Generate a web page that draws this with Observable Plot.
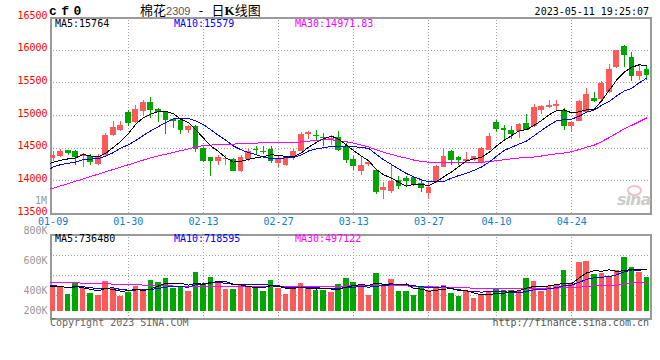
<!DOCTYPE html>
<html>
<head>
<meta charset="utf-8">
<script src="https://cdn.jsdelivr.net/npm/d3@7"></script>
<script src="https://cdn.jsdelivr.net/npm/@observablehq/plot@0.6"></script>
<style>
html,body{margin:0;padding:0;background:#fff;}
#wrap{position:relative;width:660px;height:360px;overflow:hidden;background:#fff;}
#main,#vol{position:absolute;left:0;width:660px;}
#main{top:0;} #vol{top:228px;}
.t{position:absolute;white-space:nowrap;font-size:10px;line-height:10px;font-family:"DejaVu Sans Mono",monospace;}
</style>
</head>
<body>
<div id="wrap">
  <div id="main"></div>
  <div id="vol"></div>
  <div class="t" style="left:49px;top:7px;font:bold 13px/10px 'Liberation Mono',monospace;letter-spacing:4.4px;color:#000">cf0</div>
  <div class="t" style="left:140px;top:3px;font:13px/13px 'Noto Sans CJK SC',sans-serif;color:#000">棉花<span style="font:11px/13px 'Liberation Sans',sans-serif;color:#555">2309</span><span style="display:inline-block;width:21px;text-align:center">-</span>日<b style="font-family:'Liberation Serif',serif">K</b>线图</div>
  <div class="t" style="right:11px;top:7px;color:#000">2023-05-11 19:25:07</div>
  <div class="t" style="right:613px;top:196px;color:#999">1M</div>
  <div class="t" style="left:50px;top:318px;color:#666">Copyright 2023 SINA.COM</div>
  <div class="t" style="right:11px;top:318px;color:#555">http://finance.sina.com.cn</div>
  <div style="position:absolute;left:627px;top:185px;width:11px;height:7px;border:2px solid #ecc4c4;border-radius:50%;"></div>
  <div class="t" style="left:617px;top:192px;font:italic bold 16px/16px 'DejaVu Sans',sans-serif;color:#cccccc;letter-spacing:-1px">sina</div>
</div>
<script>
// ---- data ----
const dates = ["01-09","01-10","01-11","01-12","01-13","01-16","01-17","01-18","01-19","01-20",
"01-30","01-31","02-01","02-02","02-03","02-06","02-07","02-08","02-09","02-10",
"02-13","02-14","02-15","02-16","02-17","02-20","02-21","02-22","02-23","02-24",
"02-27","02-28","03-01","03-02","03-03","03-06","03-07","03-08","03-09","03-10",
"03-13","03-14","03-15","03-16","03-17","03-20","03-21","03-22","03-23","03-24",
"03-27","03-28","03-29","03-30","03-31","04-03","04-04","04-06","04-07","04-10",
"04-11","04-12","04-13","04-14","04-17","04-18","04-19","04-20","04-21","04-24",
"04-25","04-26","04-27","04-28","05-04","05-05","05-08","05-09","05-10","05-11"];

const open = [14342,14378,14460,14444,14378,14378,14255,14393,14699,14776,
15051,14888,15067,15194,15092,15041,14938,14918,14775,14836,
14500,14357,14290,14326,14331,14137,14331,14479,14454,14484,
14265,14240,14357,14450,14704,14693,14663,14622,14658,14530,
14331,14137,14245,14163,13847,13831,14010,14040,14046,13965,
13800,13969,14203,14443,14352,14290,14306,14275,14469,14892,
14795,14765,14760,14877,14826,15081,15122,15132,15081,14836,
14902,15040,15265,15244,15346,15734,16051,15887,15591,15704];

const high = [14444,14485,14470,14460,14419,14409,14404,14724,14902,14912,
15081,15157,15235,15270,15107,15056,14958,14938,14840,14846,
14505,14360,14392,14392,14342,14392,14479,14530,14520,14520,
14377,14378,14480,14735,14760,14775,14724,14699,14750,14571,
14377,14377,14300,14163,13969,14255,14071,14071,14071,14000,
13969,14240,14494,14458,14367,14428,14377,14510,14724,14928,
14851,14836,14877,15020,15173,15158,15234,15224,15102,14902,
15234,15413,15357,15515,15785,16000,16071,15959,15770,15744];

const low = [14291,14358,14393,14240,14198,14240,14240,14368,14673,14761,
14826,14878,14980,14954,14888,14709,14800,14714,14724,14428,
14280,14071,14240,14240,14137,14122,14290,14392,14408,14265,
14204,14224,14306,14444,14632,14612,14520,14545,14454,14265,
14153,14086,14214,13796,13714,13806,13860,13898,13918,13816,
13714,13959,14203,14239,14239,14280,14290,14265,14460,14734,
14596,14632,14647,14765,14816,15020,15110,15081,14765,14734,
14902,15030,15194,15234,15336,15719,15734,15515,15540,15540];

const close = [14393,14444,14419,14358,14409,14276,14367,14699,14812,14852,
14878,15097,15194,15082,15041,14919,14902,14765,14826,14479,
14300,14290,14352,14342,14150,14357,14450,14459,14433,14290,
14326,14352,14444,14714,14745,14673,14642,14653,14469,14316,
14224,14239,14275,13816,13898,13984,13918,13984,13949,13883,
13898,14214,14377,14306,14306,14326,14367,14494,14683,14790,
14775,14714,14867,14775,15122,15142,15158,15173,14836,14892,
15219,15326,15209,15489,15704,16000,15913,15591,15678,15607];

// volume, thousands of lots
const volume = [445,427,297,498,409,315,279,528,397,261,
338,445,386,546,516,587,409,439,356,694,
474,605,486,386,386,474,439,439,356,546,
409,297,409,498,397,368,368,338,474,587,
516,445,279,676,474,557,356,356,279,415,
368,439,457,320,261,350,231,279,350,380,
368,368,350,587,528,350,439,457,723,474,
871,883,652,676,593,723,960,770,694,593];

// closes / volumes of the 29 sessions before 01-09 (off-chart), estimated from where the MA lines start
const priorClose = [13364,13339,13278,13329,13196,13287,13619,13732,13772,13798,
14017,14114,14002,14231,14109,14092,13955,14016,13669,13490,
14140,14202,14192,14000,14207,14300,14309,14283,14140];
const priorVolume = [557,427,628,539,445,409,658,527,391,468,
575,516,676,646,717,539,569,486,694,474,
605,486,386,386,474,439,439,356,546];

const priceMaLabels = ["MA5:15764","MA10:15579","MA30:14971.83"];
const volMaLabels = ["MA5:736480","MA10:718595","MA30:497122"];
const maPeriods = [5, 10, 30];
const maColors = ["#000000", "#0000ff", "#ff00ff"];

const yTicks = [13500,14000,14500,15000,15500,16000,16500];
const yGrid = [14000,14500,15000,15500,16000];
const xTickIdx = [0,10,20,30,40,50,59,69];
const volTickVals = [1434000, 900000, 355000, 0];
const volTickLabels = ["800K","600K","400K","200K"];
const volGridVals = [280000, 635000, 990000];

// ---- build ----
const RED = "#ff5a5a", GREEN = "#00a600";
const days = dates.map((date, i) => ({i, date, open: open[i], high: high[i], low: low[i], close: close[i],
  vol: volume[i] * 1000, col: close[i] >= open[i] ? RED : GREEN}));
const closeSeries = priorClose.map((v, j) => ({i: j - priorClose.length, v}))
  .concat(days.map(d => ({i: d.i, v: d.close})));
const volSeries = priorVolume.map((v, j) => ({i: j - priorVolume.length, v: v * 1000}))
  .concat(days.map(d => ({i: d.i, v: d.vol})));

const gridStyle = {stroke: "#a0a0a0", strokeOpacity: 1, strokeWidth: 1, strokeDasharray: "1,2"};
const svgStyle = "font-family:'DejaVu Sans Mono',monospace;font-size:10px;shape-rendering:crispEdges;background:transparent;overflow:visible;";
const xDomain = [-0.35, 79.48];

const maLines = series => [2, 1, 0].map(j =>
  Plot.lineY(series, Plot.windowY({k: maPeriods[j], anchor: "end"},
    {x: "i", y: "v", stroke: maColors[j], strokeWidth: 1, clip: true})));

const mainChart = Plot.plot({
  width: 660, height: 230,
  marginTop: 17, marginBottom: 17, marginLeft: 50, marginRight: 10,
  x: {type: "linear", domain: xDomain},
  y: {domain: [13500, 16500]},
  style: svgStyle,
  marks: [
    Plot.gridY(yGrid, gridStyle),
    Plot.gridX(xTickIdx.slice(1), gridStyle),
    Plot.frame({stroke: "#999", strokeWidth: 2}),
    Plot.ruleX(days, {x: "i", y1: "low", y2: "high", stroke: "col", strokeWidth: 1}),
    Plot.rect(days, {x1: d => d.i - 0.38, x2: d => d.i + 0.38, y1: "open", y2: "close", fill: "col"}),
    ...maLines(closeSeries),
    Plot.axisY(yTicks, {anchor: "left", tickSize: 0, tickPadding: 3, fill: "#ff0000", dy: -2, label: null,
      tickFormat: d => String(d)}),
    Plot.axisX(xTickIdx, {anchor: "bottom", tickSize: 0, tickPadding: 4, fill: "#0a80d0",
      tickFormat: i => dates[i], label: null})
  ]
});
document.getElementById("main").appendChild(mainChart);

const volChart = Plot.plot({
  width: 660, height: 132,
  marginTop: 6, marginBottom: 42, marginLeft: 50, marginRight: 10,
  x: {type: "linear", domain: xDomain, axis: null},
  y: {domain: [-129700, 1363000]},
  style: svgStyle,
  marks: [
    Plot.gridY(volGridVals, gridStyle),
    Plot.gridX(xTickIdx.slice(1), gridStyle),
    Plot.frame({stroke: "#999", strokeWidth: 2}),
    Plot.rect(days, {x1: d => d.i - 0.37, x2: d => d.i + 0.37, y1: 0, y2: "vol", fill: "col"}),
    ...maLines(volSeries),
    Plot.axisY(volTickVals, {anchor: "left", tickSize: 0, tickPadding: 3, fill: "#999999",
      tickFormat: v => volTickLabels[volTickVals.indexOf(v)], label: null})
  ]
});
document.getElementById("vol").appendChild(volChart);

// MA legend texts inside the panels
const wrap = document.getElementById("wrap");
const labelX = [55, 174, 295];
function addLabels(texts, top) {
  texts.forEach((t, j) => {
    const el = document.createElement("div");
    el.className = "t";
    el.textContent = t;
    el.style.left = labelX[j] + "px";
    el.style.top = top + "px";
    el.style.color = maColors[j];
    wrap.appendChild(el);
  });
}
addLabels(priceMaLabels, 19);
addLabels(volMaLabels, 234);
</script>
</body>
</html>
